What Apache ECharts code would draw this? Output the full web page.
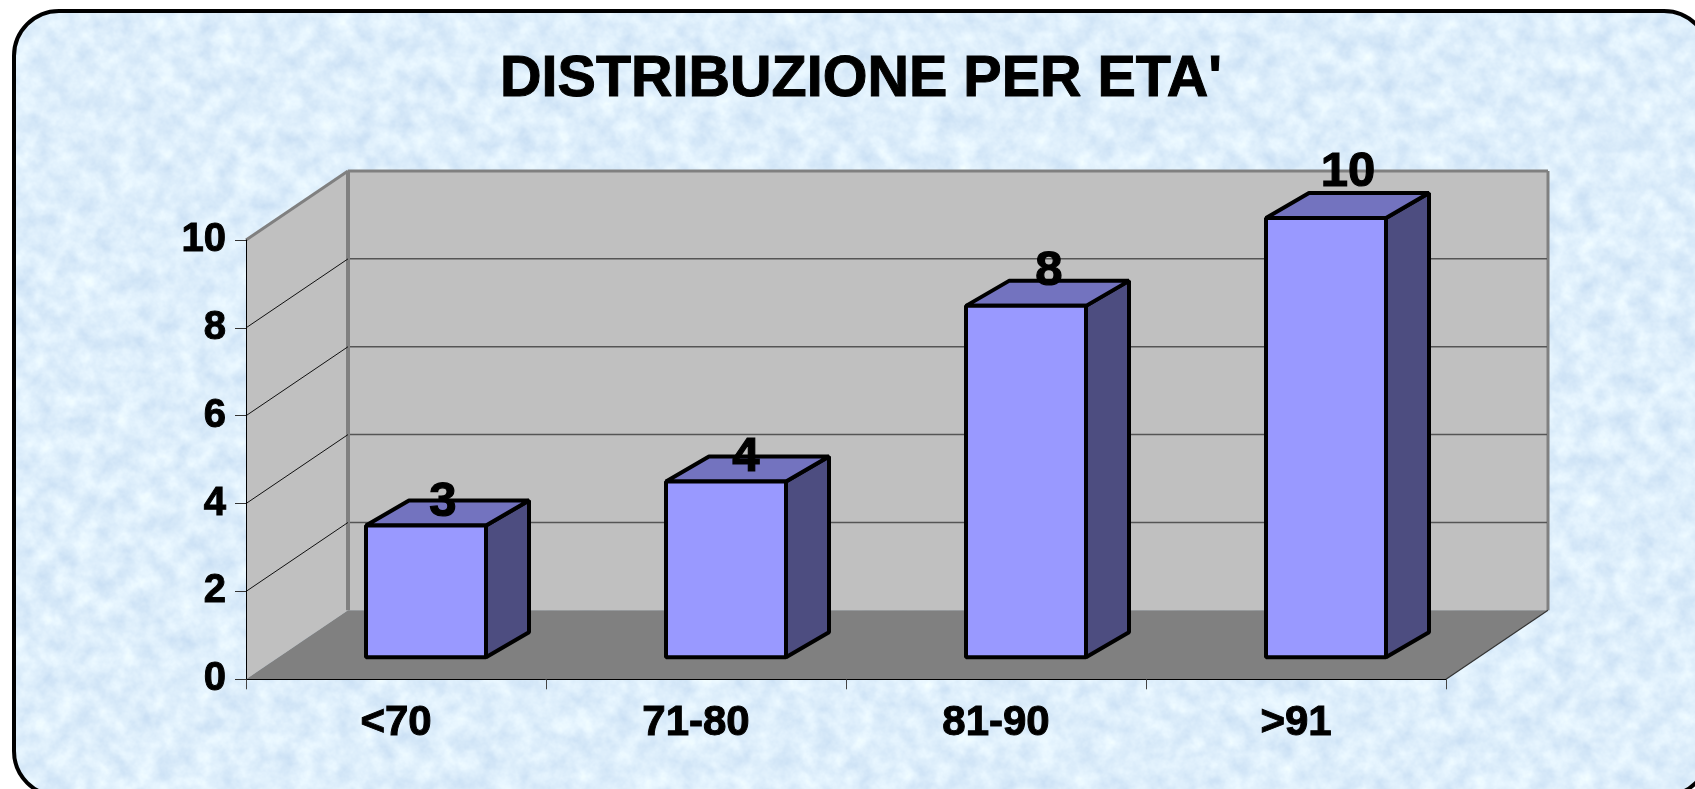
<!DOCTYPE html>
<html>
<head>
<meta charset="utf-8">
<title>Distribuzione per eta'</title>
<script src="https://cdn.jsdelivr.net/npm/echarts@6/dist/echarts.min.js"></script>
<style>
html,body{margin:0;padding:0;width:1695px;height:789px;background:#fff;overflow:hidden}
#panel{position:absolute;left:12px;top:9px;width:1691px;height:781px;border:4px solid #000;border-radius:47px;
background-color:#dcebfc;
background-image:url("data:image/svg+xml;utf8,<svg xmlns='http://www.w3.org/2000/svg' width='1700' height='790'><filter id='n' x='0' y='0' width='100%' height='100%' color-interpolation-filters='sRGB'><feTurbulence type='fractalNoise' baseFrequency='0.05' numOctaves='4' seed='7'/><feColorMatrix type='matrix' values='0.2 0 0 0 0.77  0.15 0 0 0 0.86  0.07 0 0 0 0.95  0 0 0 0 1'/></filter><rect width='1700' height='790' filter='url(%23n)'/></svg>");
background-size:1700px 790px}
#chart{position:absolute;left:0;top:0;width:1695px;height:789px}
</style>
</head>
<body>
<div id="panel"></div>
<div id="chart"></div>
<script>
const titleText = "DISTRIBUZIONE PER ETA'";
const categories = ['<70', '71-80', '81-90', '>91'];
const values = [3, 4, 8, 10];
const gridValues = [2, 4, 6, 8];

// 3D look of the chart (projection of the depth axis, in pixels)
const wallDepth = { dx: 102, dy: -69 };
const barDepth = { dx: 43, dy: -25 };
const barShift = { dx: 30, dy: -22 };
const barWidth = 120;
const labelNudge = [[17, -23.5], [20, -24], [23, -34], [22, -46]];

const poly = (points, fill, extra) => ({
  type: 'polygon',
  shape: { points },
  style: Object.assign({ fill, stroke: null }, extra || {}),
  silent: true
});
const seg = (x1, y1, x2, y2, stroke, lineWidth) => ({
  type: 'line',
  shape: { x1, y1, x2, y2 },
  style: { stroke, lineWidth, fill: null },
  silent: true
});

function renderBackdrop(params) {
  const c = params.coordSys;
  const L = c.x, R = c.x + c.width, T = c.y, B = c.y + c.height;
  const dx = wallDepth.dx, dy = wallDepth.dy;
  return {
    type: 'group',
    children: [
      poly([[L, T], [L + dx, T + dy], [L + dx, B + dy], [L, B]], '#c0c0c0'),
      poly([[L + dx, T + dy], [R + dx, T + dy], [R + dx, B + dy], [L + dx, B + dy]], '#c0c0c0'),
      poly([[L, B], [L + dx, B + dy], [R + dx, B + dy], [R, B]], '#808080'),
      seg(L, T, L + dx, T + dy, '#808080', 3),
      seg(L + dx, T + dy, R + dx, T + dy, '#808080', 3),
      seg(L + dx, T + dy, L + dx, B + dy, '#808080', 4),
      seg(R + dx, T + dy, R + dx, B + dy, '#808080', 3),
      seg(R, B, R + dx, B + dy, '#333333', 1.2)
    ]
  };
}

function renderGridline(params, api) {
  const c = params.coordSys;
  const y = api.coord([0, api.value(0)])[1];
  const L = c.x, R = c.x + c.width;
  const dx = wallDepth.dx, dy = wallDepth.dy;
  return {
    type: 'group',
    children: [
      seg(L, y, L + dx, y + dy, '#111111', 1),
      seg(L + dx + 2, y + dy, R + dx - 1, y + dy, '#555555', 1.5)
    ]
  };
}

function renderBar(params, api) {
  const i = api.value(0);
  const top = api.coord([i, api.value(1)]);
  const base = api.coord([i, 0]);
  const xl = top[0] + barShift.dx - barWidth / 2;
  const xr = xl + barWidth;
  const yt = top[1] + barShift.dy;
  const yb = base[1] + barShift.dy;
  const dx = barDepth.dx, dy = barDepth.dy;
  const edge = { stroke: '#000', lineWidth: 4, lineJoin: 'bevel' };
  return {
    type: 'group',
    children: [
      poly([[xr, yt], [xr + dx, yt + dy], [xr + dx, yb + dy], [xr, yb]], '#4d4d80', edge),
      poly([[xl, yt], [xl + dx, yt + dy], [xr + dx, yt + dy], [xr, yt]], '#7373bf', edge),
      poly([[xl, yt], [xr, yt], [xr, yb], [xl, yb]], '#9999ff', edge),
      {
        type: 'text',
        silent: true,
        style: {
          text: String(api.value(1)),
          x: top[0] + barShift.dx + labelNudge[i][0],
          y: top[1] + barShift.dy + labelNudge[i][1],
          align: 'center',
          verticalAlign: 'middle',
          fill: '#000',
          stroke: '#000',
          lineWidth: 1.2,
          font: "bold 49px 'Liberation Sans', Arial, sans-serif"
        }
      }
    ]
  };
}

const chart = echarts.init(document.getElementById('chart'), null, { renderer: 'canvas' });
const fontFamily = "'Liberation Sans', Arial, sans-serif";
const heavy = { textBorderColor: '#000', textBorderWidth: 1 };
chart.setOption({
  animation: false,
  backgroundColor: 'transparent',
  title: {
    text: titleText,
    left: 856,
    top: 46,
    textAlign: 'center',
    textStyle: Object.assign({ color: '#000', fontFamily, fontWeight: 'bold', fontSize: 57.5 }, heavy)
  },
  grid: { left: 246, top: 240, width: 1200, height: 439.3, containLabel: false },
  xAxis: {
    type: 'category',
    data: categories,
    z: 5,
    axisLine: { lineStyle: { color: '#000', width: 1 } },
    axisTick: { show: true, alignWithLabel: false, length: 10, lineStyle: { color: '#444', width: 1 } },
    axisLabel: Object.assign({ color: '#000', fontFamily, fontWeight: 'bold', fontSize: 42, margin: 23 }, heavy)
  },
  yAxis: {
    type: 'value',
    min: 0,
    max: 10,
    interval: 2,
    z: 5,
    splitLine: { show: false },
    axisLine: { show: true, lineStyle: { color: '#000', width: 1 } },
    axisTick: { show: true, length: 11, lineStyle: { color: '#333', width: 1 } },
    axisLabel: Object.assign({ color: '#000', fontFamily, fontWeight: 'bold', fontSize: 40, margin: 20 }, heavy)
  },
  series: [
    { type: 'custom', name: 'walls', z: 1, silent: true, data: [[0]], renderItem: renderBackdrop },
    { type: 'custom', name: 'gridlines', z: 2, silent: true, data: gridValues.map(v => [v]), encode: { y: 0 }, renderItem: renderGridline },
    { type: 'custom', name: 'eta', z: 10, silent: true,
      data: categories.map((c, i) => [i, values[i]]),
      encode: { x: 0, y: 1 },
      renderItem: renderBar }
  ]
});
</script>
</body>
</html>
